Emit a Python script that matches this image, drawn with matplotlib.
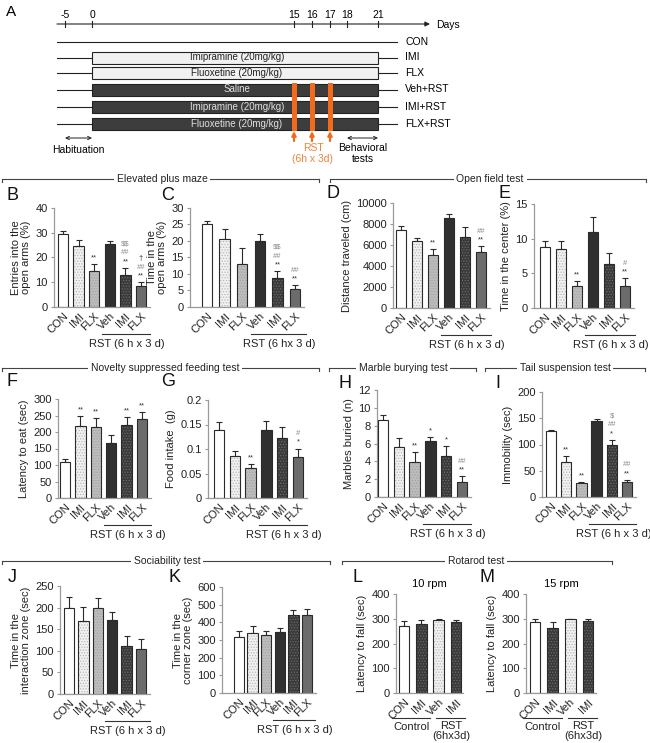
import matplotlib
matplotlib.use("Agg")
import matplotlib.pyplot as plt
import numpy as np
from matplotlib.transforms import blended_transform_factory, offset_copy

plt.rcParams["font.family"] = ["Liberation Sans", "DejaVu Sans"]
plt.rcParams["hatch.linewidth"] = 0.6

W, H = 650, 743
EDGE = "#2a2a2a"
SPINE = "#9a9a9a"

# ---------------------------------------------------------------- data
groups6 = ["CON", "IMI", "FLX", "Veh", "IMI", "FLX"]
groups4 = ["CON", "IMI", "Veh", "IMI"]
styles6 = ["con", "imi", "flx", "veh", "imi_rst", "flx_rst"]
styles4 = ["con", "imi_rst", "imi", "imi_rst"]

# B  elevated plus maze, entries
epm_entries = [29.4, 24.6, 14.5, 25.6, 13.1, 8.4]
epm_entries_err = [1.3, 2.3, 2.7, 0.9, 2.7, 1.6]
# C  elevated plus maze, time
epm_time = [25.0, 20.6, 13.1, 20.1, 8.8, 5.6]
epm_time_err = [1.1, 3.1, 4.9, 2.1, 2.1, 1.0]
# D  open field distance
of_dist = [7460, 6350, 5020, 8570, 6760, 5300]
of_dist_err = [340, 350, 630, 410, 950, 570]
# E  open field centre time
of_center = [8.75, 8.56, 3.2, 10.9, 6.35, 3.2]
of_center_err = [0.95, 1.15, 0.7, 2.2, 1.65, 1.1]
# F  novelty suppressed feeding latency
nsf_latency = [108, 218, 216, 168, 220, 239]
nsf_latency_err = [10, 30, 27, 23, 24, 21]
# G  food intake
nsf_food = [0.138, 0.086, 0.061, 0.139, 0.122, 0.084]
nsf_food_err = [0.018, 0.010, 0.008, 0.019, 0.022, 0.017]
# H  marble burying
marbles = [8.66, 5.56, 3.88, 6.23, 4.55, 1.72]
marbles_err = [0.5, 1.08, 1.12, 0.45, 1.2, 0.63]
# I  tail suspension
immobility = [126, 66, 26, 145, 100, 28]
immobility_err = [2, 12, 3, 3, 9, 5]
# J  sociability, interaction zone
soc_inter = [199, 170, 198, 171, 112, 104]
soc_inter_err = [26, 31, 24, 18, 23, 24]
# K  sociability, corner zone
soc_corner = [319, 341, 328, 345, 443, 439]
soc_corner_err = [30, 38, 23, 21, 26, 36]
# L / M  rotarod
rota_10 = [272, 280, 296, 286]
rota_10_err = [18, 14, 3, 10]
rota_15 = [288, 263, 298, 290]
rota_15_err = [11, 23, 2, 9]

# significance marks, bottom -> top
marks_B = [[], [], ["**"], [], ["**", "##", "$$"], ["**", "##", "†"]]
marks_C = [[], [], [], [], ["**", "##", "$$"], ["**", "##"]]
marks_D = [[], [], ["**"], [], [], ["**", "##"]]
marks_E = [[], [], ["**"], [], [], ["**", "#"]]
marks_F = [[], ["**"], ["**"], [], ["**"], ["**"]]
marks_G = [[], [], ["**"], [], [], ["*", "#"]]
marks_H = [[], [], ["**"], ["*"], ["*"], ["**", "##"]]
marks_I = [[], ["**"], ["**"], [], ["*", "##", "$"], ["**", "##"]]

# timeline schematic
day_labels = ["-5", "0", "15", "16", "17", "18", "21"]
day_values = [-5, 0, 15, 16, 17, 18, 21]
schematic_px = [65, 92, 294, 312, 330, 347, 378]
row_labels = ["CON", "IMI", "FLX", "Veh+RST", "IMI+RST", "FLX+RST"]
row_box = [None, "light", "light", "dark", "dark", "dark"]
row_text = ["", "Imipramine (20mg/kg)", "Fluoxetine (20mg/kg)", "Saline",
            "Imipramine (20mg/kg)", "Fluoxetine (20mg/kg)"]
rst_days = [15, 16, 17]

STYLES = {
    "con": dict(fc="white", hc="white", hatch=None),
    "imi": dict(fc="#f1f1f1", hc="#b8b8b8", hatch="......"),
    "flx": dict(fc="#bdbdbd", hc="#a2a2a2", hatch="......"),
    "veh": dict(fc="#303030", hc="#303030", hatch=None),
    "imi_rst": dict(fc="#3a3a3a", hc="#6a6a6a", hatch="......"),
    "flx_rst": dict(fc="#6c6c6c", hc="#6c6c6c", hatch=None),
}


def add_ax(fig, left, top, right, bottom):
    return fig.add_axes([left / W, 1 - bottom / H, (right - left) / W, (bottom - top) / H])


def group_line(fig, ax, x0, x1, label, xt, dy_line=27, dy_text=37):
    base = blended_transform_factory(ax.transData, ax.transAxes)
    tl = offset_copy(base, fig=fig, y=-dy_line, units="dots")
    tt = offset_copy(base, fig=fig, y=-dy_text, units="dots")
    ax.plot([x0, x1], [0, 0], color="#333333", lw=0.8, transform=tl, clip_on=False)
    ax.text(xt, 0, label, transform=tt, ha="center", va="center", fontsize=8,
            color="#222222", linespacing=1.0)


def bar_panel(fig, box, labels, styles, vals, errs, ylim, step, ylabel, marks=None):
    left, top, right, bottom, c0, c1 = box
    ax = add_ax(fig, left, top, right, bottom)
    n = len(vals)
    sp = (c1 - c0) / (n - 1)
    ax.set_xlim(-(c0 - left) / sp, n - 1 + (right - c1) / sp)
    ax.set_ylim(*ylim)
    x = np.arange(n)
    bw = 10.5 / sp
    for xi, v, st in zip(x, vals, styles):
        s = STYLES[st]
        ax.bar(xi, v, bw, color=s["fc"], edgecolor=s["hc"], hatch=s["hatch"],
               linewidth=0, zorder=2)
        ax.bar(xi, v, bw, fill=False, edgecolor=EDGE, linewidth=0.8, zorder=3)
    ax.errorbar(x, vals, yerr=[np.zeros(n), errs], fmt="none", ecolor=EDGE,
                elinewidth=0.8, capsize=2.3, capthick=0.8, zorder=1)
    for sp_name in ["top", "right"]:
        ax.spines[sp_name].set_visible(False)
    for sp_name in ["left", "bottom"]:
        ax.spines[sp_name].set_color(SPINE)
        ax.spines[sp_name].set_linewidth(0.9)
    ax.set_xticks(x)
    ax.set_xticklabels(labels, rotation=45, ha="right", rotation_mode="anchor",
                       fontsize=8, color="#222222")
    ax.tick_params(axis="x", length=0, pad=3)
    ticks = np.arange(ylim[0], ylim[1] + step / 2, step)
    ax.set_yticks(ticks)
    ax.set_yticklabels([f"{t:g}" for t in ticks], fontsize=8, color="#222222")
    ax.tick_params(axis="y", length=2.5, width=0.8, color=SPINE, pad=2)
    ax.set_ylabel(ylabel, fontsize=8, labelpad=3, linespacing=1.0, color="#222222")
    if marks:
        for xi, v, e, mk in zip(x, vals, errs, marks):
            for k, m in enumerate(mk):
                col = "#333333" if m[0] in "*†" else "#8a8a8a"
                ax.annotate(m, (xi, v + e), xytext=(0, 2.0 + 6.3 * k),
                            textcoords="offset points", ha="center", va="bottom",
                            fontsize=5.5, color=col, parse_math=False,
                            annotation_clip=False)
    return ax


fig = plt.figure(figsize=(W / 100, H / 100), dpi=100)

# overlay in pixel coordinates for schematic, headers and letters
ov = fig.add_axes([0, 0, 1, 1])
ov.set_xlim(0, W)
ov.set_ylim(H, 0)
ov.axis("off")


def sx(day):
    return np.interp(day, day_values, schematic_px)


# ---------------------------------------------------------------- panel A
ov.text(11, 12, "A", fontsize=11, ha="center", va="center")
ty = 24
ov.annotate("", xy=(430, ty), xytext=(57, ty),
            arrowprops=dict(arrowstyle="-|>", color="#222222", lw=0.8,
                            mutation_scale=7, shrinkA=0, shrinkB=0))
ov.text(436, ty + 1, "Days", fontsize=7.5, ha="left", va="center")
for lab, d in zip(day_labels, day_values):
    ov.plot([sx(d), sx(d)], [ty - 3, ty + 3], color="#222222", lw=0.8)
    ov.text(sx(d), ty - 9, lab, fontsize=7.5, ha="center", va="center")

row_y = [42, 57.5, 73, 89.5, 107, 124]
for lab, kind, txt, y in zip(row_labels, row_box, row_text, row_y):
    ov.plot([57, 397], [y, y], color="#222222", lw=0.8, zorder=1)
    ov.text(405, y, lab, fontsize=7.5, ha="left", va="center")
    if kind is not None:
        fc = "#f1f1f1" if kind == "light" else "#3d3d3d"
        tc = "#222222" if kind == "light" else "#e0e0e0"
        ov.add_patch(plt.Rectangle((sx(0), y - 6), sx(21) - sx(0), 12, facecolor=fc,
                                   edgecolor="#222222", lw=0.8, zorder=2))
        ov.text(237, y, txt, fontsize=7, ha="center", va="center", color=tc, zorder=4)

ORANGE = "#f26a1b"
for d in rst_days:
    ov.add_patch(plt.Rectangle((sx(d) - 2.5, row_y[3] - 6.5), 5,
                               row_y[5] - row_y[3] + 13, facecolor=ORANGE,
                               edgecolor="none", zorder=3))
    ov.annotate("", xy=(sx(d), 131), xytext=(sx(d), 141),
                arrowprops=dict(arrowstyle="-|>", color=ORANGE, lw=1.6,
                                mutation_scale=6, shrinkA=0, shrinkB=0))
ov.text(313, 148, "RST", fontsize=7.5, ha="center", va="center", color="#e8843a")
ov.text(313, 159, "(6h x 3d)", fontsize=7.5, ha="center", va="center", color="#e8843a")
for x0, x1 in [(sx(-5), sx(0)), (sx(18), sx(21))]:
    ov.annotate("", xy=(x1, 138), xytext=(x0, 138),
                arrowprops=dict(arrowstyle="<->", color="#222222", lw=0.7,
                                mutation_scale=6, shrinkA=0, shrinkB=0))
ov.text(78, 150, "Habituation", fontsize=7.5, ha="center", va="center")
ov.text(363, 148, "Behavioral", fontsize=7.5, ha="center", va="center")
ov.text(363, 159, "tests", fontsize=7.5, ha="center", va="center")


# ---------------------------------------------------------------- headers
def header(x0, x1, y, xt, text):
    ov.plot([x0, x1], [y, y], color="#444444", lw=0.8)
    ov.plot([x0, x0], [y, y + 3], color="#444444", lw=0.8)
    ov.plot([x1, x1], [y, y + 3], color="#444444", lw=0.8)
    ov.text(xt, y, text, fontsize=7.5, ha="center", va="center", color="#222222",
            bbox=dict(facecolor="white", edgecolor="none", pad=2.0))


header(2, 319, 179, 162, "Elevated plus maze")
header(330, 646, 179, 490, "Open field test")
header(2, 319, 368, 165, "Novelty suppressed feeding test")
header(329, 476, 368, 403, "Marble burying test")
header(485, 645, 368, 565, "Tail suspension test")
header(2, 330, 561, 167, "Sociability test")
header(342, 612, 561, 476, "Rotarod test")

letters = [("B", 13, 195), ("C", 168, 195), ("D", 333, 193), ("E", 505, 193),
           ("F", 12, 381), ("G", 168, 381), ("H", 345, 383), ("I", 498, 383),
           ("J", 12, 577), ("K", 175, 577), ("L", 357, 577), ("M", 487, 577)]
for t, x, y in letters:
    ov.text(x, y, t, fontsize=13, ha="center", va="center", color="#111111")

# ---------------------------------------------------------------- bar panels
rst6 = "RST (6 h x 3 d)"
panels = [
    ((54, 208, 150, 307, 63, 141), epm_entries, epm_entries_err, (0, 40), 10,
     "Entries into the\nopen arms (%)", marks_B, rst6),
    ((190, 208, 304, 307, 207, 295), epm_time, epm_time_err, (0, 30), 5,
     "Time in the\nopen arms (%)", marks_C, "RST (6 hx 3 d)"),
    ((393, 203, 490, 308, 401, 481), of_dist, of_dist_err, (0, 10000), 2000,
     "Distance traveled (cm)", marks_D, rst6),
    ((534, 204, 634, 308, 545, 625), of_center, of_center_err, (0, 15), 5,
     "Time in the center (%)", marks_E, rst6),
    ((58, 399, 151, 498, 65, 142), nsf_latency, nsf_latency_err, (0, 300), 50,
     "Latency to eat (sec)", marks_F, rst6),
    ((208, 400, 307, 498, 219, 298), nsf_food, nsf_food_err, (0, 0.2), 0.05,
     "Food intake  (g)", marks_G, rst6),
    ((377, 390, 471, 497, 383, 462), marbles, marbles_err, (0, 12), 2,
     "Marbles buried (n)", marks_H, rst6),
    ((542, 392, 636, 497, 551, 627), immobility, immobility_err, (0, 200), 50,
     "Immobility (sec)", marks_I, rst6),
    ((60, 586, 150, 694, 69, 141), soc_inter, soc_inter_err, (0, 250), 50,
     "Time in the\ninteraction zone (sec)", None, rst6),
    ((222, 587, 316, 693, 239, 307), soc_corner, soc_corner_err, (0, 600), 100,
     "Time in the\ncorner zone (sec)", None, rst6),
]
for box, vals, errs, ylim, step, ylabel, marks, rst in panels:
    ax = bar_panel(fig, box, groups6, styles6, vals, errs, ylim, step, ylabel, marks)
    group_line(fig, ax, 2.5, 5.6, rst, 4.1)

for box, vals, errs, title in [
    ((396, 594, 463, 693, 404, 456), rota_10, rota_10_err, "10 rpm"),
    ((526, 594, 596, 693, 535, 588), rota_15, rota_15_err, "15 rpm"),
]:
    ax = bar_panel(fig, box, groups4, styles4, vals, errs, (0, 400), 100,
                   "Latency to fall (sec)")
    ax.set_title(title, fontsize=8, pad=5)
    group_line(fig, ax, -0.7, 1.5, "Control", 0.45, dy_line=25, dy_text=34)
    group_line(fig, ax, 1.85, 3.5, "RST\n(6hx3d)", 2.75, dy_line=25, dy_text=38)

fig.savefig("out.png", dpi=100, facecolor="white")
